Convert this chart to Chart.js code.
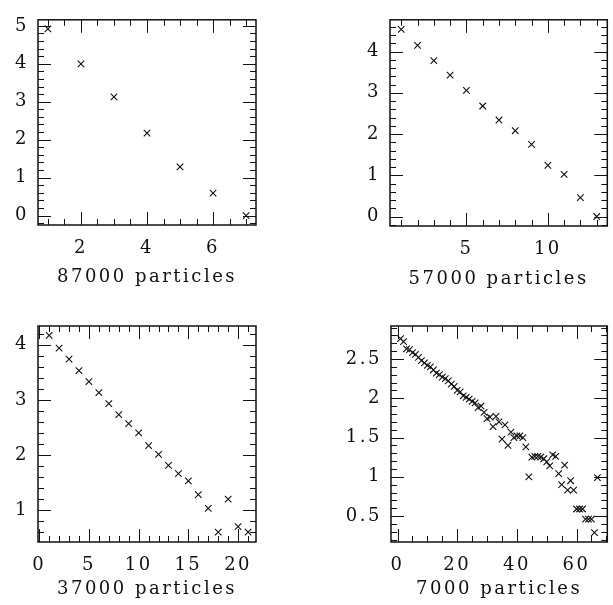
<!DOCTYPE html>
<html>
<head>
<meta charset="utf-8">
<script src="https://cdn.jsdelivr.net/npm/chart.js@4/dist/chart.umd.min.js"></script>
<style>
  body { margin: 0; background: #fff; }
  #wrap { position: relative; width: 613px; height: 605px; }
  canvas { position: absolute; }
</style>
</head>
<body>
<div id="wrap">
  <canvas id="c1" width="306" height="300" style="left:0;top:0"></canvas>
  <canvas id="c2" width="307" height="300" style="left:306px;top:0"></canvas>
  <canvas id="c3" width="306" height="305" style="left:0;top:300px"></canvas>
  <canvas id="c4" width="307" height="305" style="left:306px;top:300px"></canvas>
</div>
<script>
// values
const titles = ['87000 particles', '57000 particles', '37000 particles', '7000 particles'];

const p1X = [1, 2, 3, 4, 5, 6, 7];
const p1Y = [4.92, 4.0, 3.13, 2.17, 1.28, 0.59, 0.0];

const p2X = [1, 2, 3, 4, 5, 6, 7, 8, 9, 10, 11, 12, 13];
const p2Y = [4.54, 4.15, 3.78, 3.43, 3.06, 2.68, 2.34, 2.08, 1.75, 1.24, 1.02, 0.46, 0.0];

const p3X = [1, 2, 3, 4, 5, 6, 7, 8, 9, 10, 11, 12, 13, 14, 15, 16, 17, 18, 19, 20, 21];
const p3Y = [4.17, 3.94, 3.74, 3.53, 3.33, 3.13, 2.93, 2.73, 2.57, 2.40, 2.17,
             2.01, 1.81, 1.66, 1.53, 1.28, 1.03, 0.60, 1.20, 0.70, 0.60];

const p4X = [1, 2, 3, 4, 5, 6, 7, 8, 9, 10, 11, 12, 13, 14, 15, 16, 17, 18, 19, 20,
             21, 22, 23, 24, 25, 26, 27, 28, 29, 30, 31, 32, 33, 34, 35, 36, 37, 38, 39, 40,
             41, 42, 43, 44, 45, 46, 47, 48, 49, 50, 51, 52, 53, 54, 55, 56, 57, 58, 59, 60,
             61, 62, 63, 64, 65, 66, 67];
const p4Y = [2.76, 2.72, 2.63, 2.62, 2.58, 2.56, 2.52, 2.48, 2.45, 2.42,
             2.40, 2.36, 2.32, 2.30, 2.27, 2.25, 2.22, 2.18, 2.15, 2.10,
             2.08, 2.03, 2.01, 1.99, 1.96, 1.94, 1.88, 1.90, 1.82, 1.74,
             1.76, 1.64, 1.77, 1.70, 1.48, 1.66, 1.40, 1.57, 1.50, 1.52,
             1.52, 1.50, 1.38, 1.00, 1.25, 1.26, 1.26, 1.25, 1.23, 1.19,
             1.14, 1.28, 1.26, 1.04, 0.90, 1.15, 0.83, 0.95, 0.83, 0.59,
             0.59, 0.59, 0.46, 0.46, 0.46, 0.29, 0.99];

// tick labels
const p1XTicks = [2, 4, 6];
const p1YTicks = [0, 1, 2, 3, 4, 5];
const p2XTicks = [5, 10];
const p2YTicks = [0, 1, 2, 3, 4];
const p3XTicks = [0, 5, 10, 15, 20];
const p3YTicks = [1, 2, 3, 4];
const p4XTicks = [0, 20, 40, 60];
const p4YTicks = [0.5, 1, 1.5, 2, 2.5];

const INK = '#111';
const FONT = { family: '"DejaVu Serif", serif', size: 18 };

// letter spacing for the wide old plotter lettering
const spacing = {
    id: 'spacing',
    beforeUpdate(chart) { chart.ctx.letterSpacing = '2.5px'; },
    beforeDraw(chart) { chart.ctx.letterSpacing = '2.5px'; }
};

// box frame with inward ticks on all four sides
const frameTicks = {
    id: 'frameTicks',
    afterDraw(chart, args, opts) {
        const { ctx, chartArea: a } = chart;
        const xs = chart.scales.x, ys = chart.scales.y;
        ctx.save();
        ctx.strokeStyle = INK;
        ctx.lineWidth = 1;
        const isMajor = (v, m) => Math.abs(v / m - Math.round(v / m)) < 1e-6;
        ctx.beginPath();
        for (let i = Math.ceil(xs.min / opts.xMinor); i * opts.xMinor <= xs.max; i++) {
            const v = i * opts.xMinor;
            const px = Math.round(xs.getPixelForValue(v)) + 0.5;
            const len = isMajor(v, opts.xMajor) ? 13 : 6;
            ctx.moveTo(px, a.bottom); ctx.lineTo(px, a.bottom - len);
            ctx.moveTo(px, a.top); ctx.lineTo(px, a.top + len);
        }
        for (let i = Math.ceil(ys.min / opts.yMinor); i * opts.yMinor <= ys.max; i++) {
            const v = i * opts.yMinor;
            const py = Math.round(ys.getPixelForValue(v)) + 0.5;
            const len = isMajor(v, opts.yMajor) ? 13 : 6;
            ctx.moveTo(a.left, py); ctx.lineTo(a.left + len, py);
            ctx.moveTo(a.right, py); ctx.lineTo(a.right - len, py);
        }
        ctx.stroke();
        ctx.lineWidth = 1.5;
        ctx.strokeRect(a.left, a.top, a.right - a.left, a.bottom - a.top);
        ctx.restore();
    }
};

function makePanel(id, xs, ys, title, xTicks, yTicks, r, box) {
    const pts = xs.map((x, i) => ({ x: x, y: ys[i] }));
    new Chart(document.getElementById(id), {
        type: 'scatter',
        data: {
            datasets: [{
                data: pts,
                pointStyle: 'crossRot',
                pointRadius: 4.6,
                borderColor: INK,
                borderWidth: 1.1,
                clip: false
            }]
        },
        options: {
            responsive: false,
            animation: false,
            layout: { padding: { top: box.top, right: box.right, left: 0, bottom: 0 } },
            plugins: {
                legend: { display: false },
                tooltip: { enabled: false },
                frameTicks: r.ticks
            },
            scales: {
                x: {
                    type: 'linear',
                    min: r.x[0], max: r.x[1],
                    grid: { display: false, drawTicks: false },
                    border: { display: false },
                    afterBuildTicks: s => { s.ticks = xTicks.map(v => ({ value: v })); },
                    afterFit: s => { s.height = box.xh; },
                    ticks: { font: FONT, color: INK, padding: 13, maxRotation: 0, autoSkip: false,
                             callback: v => String(v) },
                    title: { display: true, text: title, font: FONT, color: INK,
                             padding: { top: 0, bottom: box.tb } }
                },
                y: {
                    type: 'linear',
                    min: r.y[0], max: r.y[1],
                    grid: { display: false, drawTicks: false },
                    border: { display: false },
                    afterBuildTicks: s => { s.ticks = yTicks.map(v => ({ value: v })); },
                    afterFit: s => { s.width = box.yw; },
                    ticks: { font: FONT, color: INK, padding: 9, autoSkip: false,
                             callback: v => String(v) }
                }
            }
        },
        plugins: [spacing, frameTicks]
    });
}

makePanel('c1', p1X, p1Y, titles[0], p1XTicks, p1YTicks,
    { x: [0.7, 7.3], y: [-0.25, 5.16], ticks: { xMinor: 0.5, xMajor: 2, yMinor: 0.2, yMajor: 1 } },
    { top: 9, right: 50, yw: 38, xh: 75, tb: 12 });
makePanel('c2', p2X, p2Y, titles[1], p2XTicks, p2YTicks,
    { x: [0.31, 13.65], y: [-0.23, 4.77], ticks: { xMinor: 1, xMajor: 5, yMinor: 0.2, yMajor: 1 } },
    { top: 10, right: 5, yw: 84, xh: 74, tb: 10 });
makePanel('c3', p3X, p3Y, titles[2], p3XTicks, p3YTicks,
    { x: [-0.12, 21.8], y: [0.42, 4.34], ticks: { xMinor: 1, xMajor: 5, yMinor: 0.2, yMajor: 1 } },
    { top: 26, right: 50, yw: 38, xh: 63, tb: 5 });
makePanel('c4', p4X, p4Y, titles[3], p4XTicks, p4YTicks,
    { x: [-2.2, 70.3], y: [0.17, 2.92], ticks: { xMinor: 5, xMajor: 20, yMinor: 0.1, yMajor: 0.5 } },
    { top: 26, right: 5, yw: 85, xh: 63, tb: 5 });
</script>
</body>
</html>
